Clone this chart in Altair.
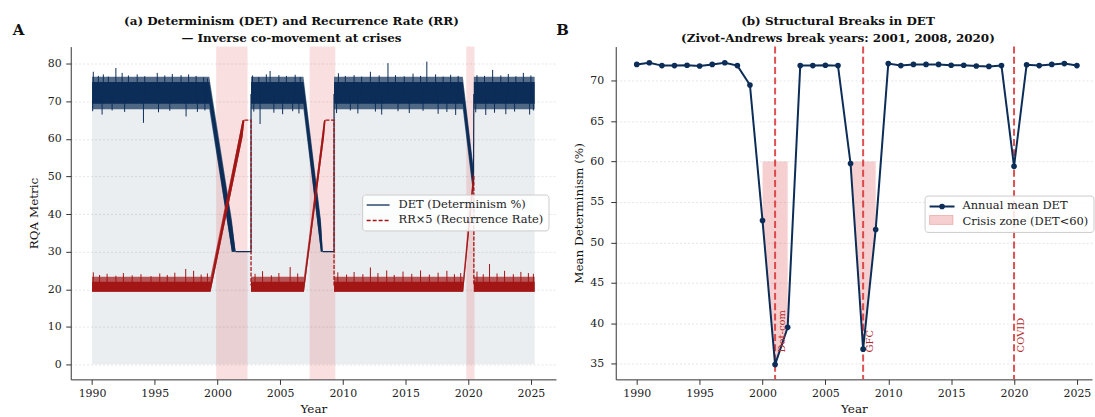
import altair as alt
import pandas as pd

NAVY = "#0c2d57"
DARK_RED = "#a31616"
BREAK_RED = "#d62728"
SERIF = "DejaVu Serif"

# ---------------- Panel (a): daily DET and RR×5 ----------------
# Dense core of the DET noise (segment id, time, lower edge, upper edge)
DET_BAND_SEG = [0, 0, 0, 0, 1, 1, 1, 1, 2, 2, 2, 3, 3]
DET_BAND_T = [1990.0, 1999.35, 2001.15, 2001.45, 2002.68, 2006.86, 2008.25, 2008.4,
              2009.3, 2019.57, 2020.42, 2020.45, 2025.3]
DET_BAND_LO = [69.4, 69.4, 30.0, 30.0, 69.4, 69.4, 30.0, 30.0, 69.4, 69.4, 45.5, 69.4, 69.4]
DET_BAND_HI = [75.2, 75.2, 37.5, 30.0, 75.2, 75.2, 37.5, 30.0, 75.2, 75.2, 51.5, 75.2, 75.2]
# Ragged outer fringe of the DET noise
DET_FUZZ_LO = [67.9, 67.9, 30.0, 30.0, 67.9, 67.9, 30.0, 30.0, 67.9, 67.9, 44.5, 67.9, 67.9]
DET_FUZZ_HI = [76.6, 76.6, 38.5, 30.0, 76.6, 76.6, 38.5, 30.0, 76.6, 76.6, 52.5, 76.6, 76.6]

# Dense core and fringe of the RR×5 noise
RR_BAND_SEG = [0, 0, 0, 0, 1, 1, 1, 1, 2, 2, 2, 3, 3]
RR_BAND_T = [1990.0, 1999.45, 2002.0, 2002.15, 2002.68, 2006.9, 2008.5, 2008.62,
             2009.3, 2019.6, 2020.42, 2020.45, 2025.3]
RR_BAND_LO = [19.3, 19.3, 60.5, 65.0, 19.3, 19.3, 60.5, 65.0, 19.3, 19.3, 47.5, 19.3, 19.3]
RR_BAND_HI = [22.0, 22.0, 65.0, 65.0, 22.0, 22.0, 65.0, 65.0, 22.0, 22.0, 51.2, 22.0, 22.0]
RR_FUZZ_HI = [23.3, 23.3, 65.0, 65.0, 23.3, 23.3, 65.0, 65.0, 23.3, 23.3, 51.8, 23.3, 23.3]

# Light fill under the DET level
FILL_T = [1990.0, 1999.35, 2001.3, 2002.68, 2002.68, 2006.86, 2008.32, 2009.3, 2009.3,
          2019.57, 2020.42, 2020.45, 2025.3]
FILL_V = [72.0, 72.0, 30.0, 30.0, 72.0, 72.0, 30.0, 30.0, 72.0, 72.0, 48.0, 72.0, 72.0]

# Crisis floors / caps and the recovery jumps
DET_STEP_SEG = [0, 0, 0, 1, 1, 1, 2, 2]
DET_STEP_T = [2001.45, 2002.68, 2002.68, 2008.4, 2009.3, 2009.3, 2020.42, 2020.45]
DET_STEP_V = [30, 30, 72, 30, 30, 72, 48, 72]
RR_STEP_SEG = [0, 0, 0, 1, 1, 1, 2, 2, 2]
RR_STEP_T = [2002.15, 2002.68, 2002.68, 2008.62, 2009.3, 2009.3, 2020.42, 2020.45, 2020.45]
RR_STEP_V = [65, 65, 21, 65, 65, 21, 50, 50, 21]

# Extreme daily values poking out of the envelopes
DET_UP_T = [1990.1, 1990.5, 1990.9, 1991.3, 1991.9, 1992.4, 1992.9, 1993.6, 1994.2, 1995.2,
            1995.8, 1996.4, 1997.1, 1997.7, 1998.3, 1998.9, 1999.2,
            2002.8, 2003.3, 2003.9, 2004.2, 2004.9, 2005.5, 2006.2, 2006.6,
            2009.65, 2010.2, 2010.9, 2011.5, 2012.2, 2012.9, 2013.6, 2014.2, 2014.9, 2015.6,
            2016.2, 2016.7, 2017.4, 2018.0, 2018.6, 2019.2,
            2020.7, 2021.3, 2021.95, 2022.6, 2023.2, 2023.8, 2024.4, 2025.0]
DET_UP_V = [77.9, 76.8, 77.2, 76.6, 78.9, 77.6, 76.9, 77.2, 76.7, 77.6,
            76.9, 77.3, 77.0, 77.2, 76.8, 76.4, 76.1,
            76.9, 76.5, 77.2, 78.1, 77.0, 76.8, 77.1, 76.5,
            77.5, 76.8, 77.0, 76.6, 77.9, 76.9, 80.2, 77.0, 76.7, 77.4,
            76.8, 80.6, 77.2, 76.6, 77.1, 76.8,
            77.0, 76.8, 78.4, 76.9, 77.3, 76.7, 77.6, 76.9]
DET_DOWN_T = [1990.05, 1990.8, 1991.6, 1992.6, 1994.1, 1995.3, 1996.2, 1997.5, 1998.4, 1999.0,
              2002.9, 2003.4, 2004.5, 2005.2, 2006.0, 2006.5,
              2009.5, 2010.6, 2011.2, 2012.6, 2013.1, 2014.4, 2015.3, 2016.4, 2017.6, 2018.3, 2019.0,
              2020.6, 2021.4, 2022.1, 2023.0, 2023.7, 2024.9, 2025.2]
DET_DOWN_V = [67.4, 66.5, 67.6, 67.2, 64.3, 67.1, 67.5, 66.0, 67.2, 67.6,
              67.3, 64.0, 67.0, 66.6, 67.4, 66.8,
              66.9, 67.6, 66.8, 67.3, 66.5, 67.4, 66.9, 67.5, 66.7, 67.2, 66.4,
              67.1, 66.4, 67.0, 66.6, 67.3, 66.5, 67.6]
RR_UP_T = [1990.1, 1990.6, 1991.2, 1991.9, 1992.5, 1993.2, 1993.9, 1994.7, 1995.4, 1996.0,
           1996.6, 1997.47, 1998.1, 1998.7, 1999.2,
           2003.0, 2003.6, 2004.3, 2004.9, 2005.8, 2006.4,
           2009.6, 2010.3, 2010.9, 2011.6, 2012.2, 2012.8, 2013.5, 2014.1, 2014.8, 2015.5,
           2016.2, 2016.9, 2017.6, 2018.3, 2018.9, 2019.4,
           2020.7, 2021.2, 2021.7, 2022.3, 2022.9, 2023.6, 2024.2, 2024.8, 2025.2]
RR_UP_V = [24.5, 23.8, 24.1, 23.6, 24.3, 23.7, 24.0, 23.5, 24.2, 23.8,
           24.4, 25.4, 24.9, 23.9, 24.2,
           24.1, 24.8, 23.7, 24.3, 25.9, 24.2,
           24.5, 23.9, 24.6, 24.0, 25.8, 24.3, 25.0, 23.8, 24.7, 24.1,
           25.0, 23.9, 24.4, 24.9, 24.0, 24.3,
           24.7, 24.0, 26.7, 24.2, 24.9, 24.0, 24.6, 24.3, 24.1]

# Crisis windows shaded in panel (a)
SPAN_START = [1999.9, 2007.35, 2019.85]
SPAN_END = [2002.4, 2009.4, 2020.5]

LEFT_LEGEND = ["DET (Determinism %)", "RR×5 (Recurrence Rate)"]

# ---------------- Panel (b): annual mean DET ----------------
YEARS = list(range(1990, 2026))
DET_MEAN = [72.0, 72.2, 71.85, 71.85, 71.9, 71.8, 72.0, 72.2, 71.85, 69.45,
            52.7, 34.9, 39.5, 71.85, 71.85, 71.9, 71.85, 59.75, 36.8, 51.6,
            72.1, 71.85, 72.0, 72.0, 72.0, 71.9, 71.9, 71.8, 71.75, 71.85,
            59.4, 71.95, 71.85, 72.0, 72.1, 71.85]
CRISIS_LEVEL = 60
BREAK_YEARS = [2001, 2008, 2020]
BREAK_LABELS = ["Dot-com", "GFC", "COVID"]
BREAK_LABEL_Y = [36.4, 36.4, 36.4]
RIGHT_LEGEND = ["Annual mean DET", "Crisis zone (DET<60)"]

# ---------------- tables ----------------
det_band = pd.DataFrame({"seg": DET_BAND_SEG, "t": DET_BAND_T, "lo": DET_BAND_LO, "hi": DET_BAND_HI,
                         "flo": DET_FUZZ_LO, "fhi": DET_FUZZ_HI})
rr_band = pd.DataFrame({"seg": RR_BAND_SEG, "t": RR_BAND_T, "lo": RR_BAND_LO, "hi": RR_BAND_HI,
                        "fhi": RR_FUZZ_HI})
fill_df = pd.DataFrame({"t": FILL_T, "v": FILL_V})
det_step = pd.DataFrame({"seg": DET_STEP_SEG, "t": DET_STEP_T, "v": DET_STEP_V,
                         "i": range(len(DET_STEP_T))})
rr_step = pd.DataFrame({"seg": RR_STEP_SEG, "t": RR_STEP_T, "v": RR_STEP_V,
                        "i": range(len(RR_STEP_T))})
det_up = pd.DataFrame({"t": DET_UP_T, "v": DET_UP_V, "base": 72.0})
det_down = pd.DataFrame({"t": DET_DOWN_T, "v": DET_DOWN_V, "base": 72.0})
rr_up = pd.DataFrame({"t": RR_UP_T, "v": RR_UP_V, "base": 21.0})
spans = pd.DataFrame({"start": SPAN_START, "end": SPAN_END})

annual = pd.DataFrame({"year": YEARS, "det": DET_MEAN})
below = annual["det"] < CRISIS_LEVEL
annual["grp"] = (below != below.shift()).cumsum()
zone = annual[below]
breaks = pd.DataFrame({"year": BREAK_YEARS, "label": BREAK_LABELS, "ly": BREAK_LABEL_Y})
one = pd.DataFrame({"k": [0]})

# ---------------- panel (a) ----------------
WL, HL = 487, 334
xa_scale = alt.Scale(domain=[1988.3, 2027.0], nice=False, zero=False)
ya_scale = alt.Scale(domain=[-4.0, 84.6], nice=False, zero=False)
xa_axis = alt.Axis(values=list(range(1990, 2026, 5)), format="d", grid=False)
ya_axis = alt.Axis(values=list(range(0, 81, 10)), grid=True, labelPadding=4.5, titlePadding=6.5)


def XA(field):
    return alt.X(field, type="quantitative", scale=xa_scale, axis=xa_axis, title="Year")


def YA(field):
    return alt.Y(field, type="quantitative", scale=ya_scale, axis=ya_axis, title="RQA Metric")


fill_layer = alt.Chart(fill_df).mark_area(color="#223f66", opacity=0.09).encode(
    x=XA("t"), y=YA("v"), y2=alt.datum(0))
span_layer = alt.Chart(spans).mark_rect(color=BREAK_RED, opacity=0.15).encode(
    x=XA("start"), x2="end")
det_fuzz_layer = alt.Chart(det_band).mark_area(color=NAVY, opacity=0.7).encode(
    x=XA("t"), y=YA("flo"), y2="fhi", detail="seg:N")
det_band_layer = alt.Chart(det_band).mark_area(color=NAVY, opacity=1).encode(
    x=XA("t"), y=YA("lo"), y2="hi", detail="seg:N")
det_up_layer = alt.Chart(det_up).mark_rule(color=NAVY, strokeWidth=1).encode(
    x=XA("t"), y=YA("base"), y2="v")
det_down_layer = alt.Chart(det_down).mark_rule(color=NAVY, strokeWidth=1).encode(
    x=XA("t"), y=YA("base"), y2="v")
det_step_layer = alt.Chart(det_step).mark_line(color=NAVY, strokeWidth=1.2).encode(
    x=XA("t"), y=YA("v"), detail="seg:N", order="i:Q")
rr_fuzz_layer = alt.Chart(rr_band).mark_area(color=DARK_RED, opacity=0.7).encode(
    x=XA("t"), y=YA("lo"), y2="fhi", detail="seg:N")
rr_band_layer = alt.Chart(rr_band).mark_area(color=DARK_RED, opacity=1).encode(
    x=XA("t"), y=YA("lo"), y2="hi", detail="seg:N")
rr_up_layer = alt.Chart(rr_up).mark_rule(color=DARK_RED, strokeWidth=1).encode(
    x=XA("t"), y=YA("base"), y2="v")
rr_step_layer = alt.Chart(rr_step).mark_line(color=DARK_RED, strokeWidth=1.3,
                                             strokeDash=[4, 1.5]).encode(
    x=XA("t"), y=YA("v"), detail="seg:N", order="i:Q")

# legend of panel (a)
leg_a_box = alt.Chart(one).mark_rect(fill="white", fillOpacity=0.85, stroke="#cccccc",
                                     strokeWidth=1, cornerRadius=3).encode(
    x=alt.value(293), x2=alt.value(480), y=alt.value(149), y2=alt.value(185))
leg_a_det = alt.Chart(one).mark_rule(color=NAVY, strokeWidth=1.3).encode(
    x=alt.value(297), x2=alt.value(320), y=alt.value(159))
leg_a_rr = alt.Chart(one).mark_rule(color=DARK_RED, strokeWidth=1.5, strokeDash=[4, 2]).encode(
    x=alt.value(297), x2=alt.value(320), y=alt.value(174.5))
leg_a_t1 = alt.Chart(one).mark_text(text=LEFT_LEGEND[0], font=SERIF, fontSize=11.5, align="left",
                                    baseline="middle", color="#222").encode(
    x=alt.value(329), y=alt.value(159))
leg_a_t2 = alt.Chart(one).mark_text(text=LEFT_LEGEND[1], font=SERIF, fontSize=11.5, align="left",
                                    baseline="middle", color="#222").encode(
    x=alt.value(329), y=alt.value(174.5))
letter_a = alt.Chart(one).mark_text(text="A", font=SERIF, fontSize=15, fontWeight="bold",
                                    align="center", baseline="middle", color="#111").encode(
    x=alt.value(-52.5), y=alt.value(-17))

panel_a = alt.layer(
    fill_layer, span_layer, det_fuzz_layer, det_band_layer, det_up_layer, det_down_layer,
    det_step_layer, rr_fuzz_layer, rr_band_layer, rr_up_layer, rr_step_layer,
    leg_a_box, leg_a_det, leg_a_rr, leg_a_t1, leg_a_t2, letter_a,
).properties(
    width=WL, height=HL,
    title=alt.TitleParams(["(a) Determinism (DET) and Recurrence Rate (RR)",
                           "— Inverse co-movement at crises"], dx=-22, offset=-22),
)

# ---------------- panel (b) ----------------
WR, HR = 478, 334
xb_scale = alt.Scale(domain=[1988.33, 2026.2], nice=False, zero=False)
yb_scale = alt.Scale(domain=[33.07, 74.2], nice=False, zero=False)
xb_axis = alt.Axis(values=list(range(1990, 2026, 5)), format="d", grid=False)
yb_axis = alt.Axis(values=list(range(35, 71, 5)), grid=True, labelPadding=7, titlePadding=4)


def XB(field):
    return alt.X(field, type="quantitative", scale=xb_scale, axis=xb_axis, title="Year")


def YB(field):
    return alt.Y(field, type="quantitative", scale=yb_scale, axis=yb_axis,
                 title="Mean Determinism (%)")


zone_layer = alt.Chart(zone).mark_area(color=BREAK_RED, opacity=0.22).encode(
    x=XB("year"), y=YB("det"), y2=alt.datum(CRISIS_LEVEL), detail="grp:N")
break_layer = alt.Chart(breaks).mark_rule(color=BREAK_RED, opacity=0.8, strokeWidth=2,
                                          strokeDash=[7, 3.3]).encode(x=XB("year"))
break_text = alt.Chart(breaks).mark_text(font=SERIF, fontSize=10, angle=270, align="left",
                                         baseline="top", color="#b52a2a", dy=2).encode(
    x=XB("year"), y=YB("ly"), text="label:N")
mean_line = alt.Chart(annual).mark_line(
    color=NAVY, strokeWidth=2,
    point=alt.OverlayMarkDef(filled=True, size=32, color=NAVY, opacity=1),
).encode(x=XB("year"), y=YB("det"))

leg_b_box = alt.Chart(one).mark_rect(fill="white", fillOpacity=0.85, stroke="#cccccc",
                                     strokeWidth=1, cornerRadius=3).encode(
    x=alt.value(310.5), x2=alt.value(WR + 2), y=alt.value(150), y2=alt.value(186.5))
leg_b_line = alt.Chart(one).mark_rule(color=NAVY, strokeWidth=2).encode(
    x=alt.value(315), x2=alt.value(340), y=alt.value(160.5))
leg_b_dot = alt.Chart(one).mark_point(filled=True, size=32, color=NAVY, opacity=1).encode(
    x=alt.value(327.5), y=alt.value(160.5))
leg_b_patch = alt.Chart(one).mark_rect(fill=BREAK_RED, fillOpacity=0.22, stroke=BREAK_RED,
                                       strokeOpacity=0.25).encode(
    x=alt.value(315), x2=alt.value(338.5), y=alt.value(169.5), y2=alt.value(178.5))
leg_b_t1 = alt.Chart(one).mark_text(text=RIGHT_LEGEND[0], font=SERIF, fontSize=11.5, align="left",
                                    baseline="middle", color="#222").encode(
    x=alt.value(348), y=alt.value(160.5))
leg_b_t2 = alt.Chart(one).mark_text(text=RIGHT_LEGEND[1], font=SERIF, fontSize=11.5, align="left",
                                    baseline="middle", color="#222").encode(
    x=alt.value(348), y=alt.value(176))
letter_b = alt.Chart(one).mark_text(text="B", font=SERIF, fontSize=15, fontWeight="bold",
                                    align="center", baseline="middle", color="#111").encode(
    x=alt.value(-53.5), y=alt.value(-17))

panel_b = alt.layer(
    zone_layer, break_layer, mean_line, break_text,
    leg_b_box, leg_b_line, leg_b_dot, leg_b_patch, leg_b_t1, leg_b_t2, letter_b,
).properties(
    width=WR, height=HR,
    title=alt.TitleParams(["(b) Structural Breaks in DET",
                           "(Zivot-Andrews break years: 2001, 2008, 2020)"], dx=-16, offset=-22),
)

chart = alt.hconcat(panel_a, panel_b, spacing=0).properties(
    padding={"left": 12, "top": 14, "right": 0, "bottom": 0},
    background="white",
).configure_view(stroke=None).configure_axis(
    labelFont=SERIF, titleFont=SERIF, labelFontSize=11, titleFontSize=12,
    titleFontWeight="normal", labelColor="#222", titleColor="#111",
    domainColor="#333", tickColor="#333", tickSize=5, labelPadding=3,
    titlePadding=5, gridColor="#dedede", gridDash=[2, 2], gridWidth=0.8,
).configure_title(
    font=SERIF, fontSize=12, fontWeight="bold", lineHeight=17,
    anchor="middle", color="#111",
)

chart.save("out.html", embed_options={"renderer": "svg", "actions": False})
